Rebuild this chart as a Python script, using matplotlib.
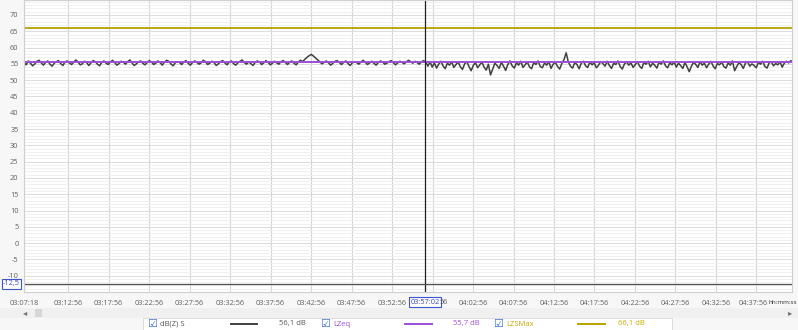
import matplotlib
matplotlib.use('Agg')
import matplotlib.pyplot as plt
import matplotlib.transforms as mtransforms
from matplotlib.ticker import MultipleLocator

plt.rcParams['font.family'] = ['Open Sans', 'DejaVu Sans']

# ---------- data ----------
START = '03:07:30'          # left edge of the plot
END = '04:42:19'            # right edge of the plot
FIRST_LABEL = '03:07:18'    # label printed at the left edge
SAMPLE_STEP = 16            # seconds between samples
TICK_TIMES = ['03:12:56', '03:17:56', '03:22:56', '03:27:56', '03:32:56', '03:37:56',
              '03:42:56', '03:47:56', '03:52:56', '03:57:56', '04:02:56', '04:07:56',
              '04:12:56', '04:17:56', '04:22:56', '04:27:56', '04:32:56', '04:37:56']
Y_TICKS = [-10, -5, 0, 5, 10, 15, 20, 25, 30, 35, 40, 45, 50, 55, 60, 65, 70]

DBZ_S = [
    55.4, 54.7, 55.9, 55.2, 54.4, 55.0, 55.8, 56.1, 55.3, 54.6, 55.5, 55.9, 54.9, 54.3, 55.2, 55.7, 56.0, 55.1, 54.5, 55.6,
    55.9, 55.3, 54.8, 55.5, 56.2, 55.6, 54.7, 55.0, 55.8, 55.4, 54.5, 55.3, 56.0, 55.7, 54.9, 54.4, 55.5, 55.9, 55.2, 54.8,
    55.6, 56.1, 55.4, 54.6, 55.1, 55.8, 55.5, 54.9, 55.7, 56.2, 55.3, 54.5, 55.0, 55.6, 55.9, 55.2, 54.7, 55.4, 56.0, 55.6,
    54.8, 55.2, 55.9, 55.4, 54.6, 55.5, 56.1, 55.8, 55.0, 54.4, 55.3, 55.7, 55.4, 54.8, 55.6, 56.0, 55.2, 54.6, 55.4, 55.9,
    55.5, 54.9, 55.3, 56.1, 55.7, 54.8, 55.2, 55.8, 55.4, 54.5, 55.0, 55.7, 56.0, 55.3, 54.7, 55.5, 55.9, 55.1, 54.6, 55.3,
    55.8, 56.2, 55.4, 54.9, 55.6, 55.1, 54.5, 55.4, 55.9, 55.6, 54.8, 55.3, 56.0, 55.5, 54.7, 55.2, 55.8, 55.3, 54.9, 55.7,
    56.0, 55.4, 54.8, 55.5, 55.9, 55.2, 54.7, 55.6, 56.1, 55.7, 56.4, 57.0, 57.5, 57.9, 57.4, 56.8, 56.2, 55.6, 55.0, 55.5,
    55.9, 55.3, 54.6, 55.2, 55.8, 56.0, 55.4, 54.8, 55.5, 55.9, 55.1, 54.5, 55.3, 55.7, 55.4, 54.9, 55.6, 56.1, 55.5, 54.8,
    55.3, 55.8, 55.2, 54.6, 55.4, 55.9, 55.6, 54.9, 55.2, 55.7, 56.0, 55.4, 54.7, 55.3, 55.8, 55.5, 55.0, 55.6, 56.1, 55.7,
    55.2, 55.8, 55.4, 54.9, 55.6, 56.0, 55.5, 54.3, 55.6, 54.0, 55.3, 53.7, 54.9, 55.8, 54.4, 53.5, 55.2, 54.6, 55.7, 53.9,
    54.8, 55.6, 54.1, 53.3, 55.0, 55.7, 54.2, 52.9, 54.5, 55.4, 53.8, 54.7, 55.6, 54.0, 53.1, 54.9, 51.6, 53.4, 55.2, 54.5,
    53.6, 55.5, 54.3, 53.0, 54.8, 55.9, 54.4, 53.7, 55.3, 54.6, 55.8, 53.9, 54.7, 55.6, 54.1, 53.5, 55.4, 54.8, 55.9, 54.2,
    53.8, 55.3, 54.6, 55.7, 53.6, 54.9, 55.5, 54.2, 53.4, 55.1, 56.3, 58.4, 55.6, 54.3, 53.7, 55.4, 54.8, 53.5, 55.2, 55.8,
    54.4, 53.9, 55.6, 54.7, 55.3, 53.8, 54.6, 55.7, 55.1, 54.3, 55.8, 54.5, 53.6, 55.2, 54.8, 55.9, 54.2, 53.4, 55.0, 55.6,
    54.6, 55.3, 53.9, 54.8, 55.7, 54.3, 53.6, 55.4, 54.9, 55.8, 54.1, 55.2, 54.6, 53.7, 55.5, 54.9, 55.9, 54.4, 53.8, 55.3,
    54.7, 55.6, 54.0, 55.2, 54.5, 53.6, 55.4, 54.1, 52.6, 54.3, 55.5, 54.8, 53.9, 55.7, 54.6, 55.2, 53.8, 54.9, 55.8, 54.4,
    53.5, 55.1, 54.7, 55.6, 54.2, 53.7, 55.3, 54.6, 55.9, 52.9, 54.2, 55.4, 54.8, 53.6, 55.2, 55.7, 54.3, 55.0, 54.5, 53.8,
    55.4, 54.9, 55.8, 54.2, 53.7, 55.3, 55.6, 54.4, 55.1, 54.7, 55.7, 54.0, 55.2, 55.8, 55.3, 56.0, 55.4, 55.6, 55.2, 55.8,
]
LZEQ = 55.7
LZSMAX = 66.1
CURSOR_TIME = '03:57:02'
CURSOR_LEVEL = -12.5
CURSOR_LEVEL_LABEL = '-12,5'

LEGEND_NAMES = ['dB(Z) S', 'LZeq', 'LZSMax']
LEGEND_VALUES = ['56,1 dB', '55,7 dB', '66,1 dB']
COLORS = ['#404040', '#9a4fd8', '#b8a100']
TEXT_COLORS = ['#555555', '#9a4fd8', '#c9a800']


def secs(hms):
    h, m, s = hms.split(':')
    return int(h) * 3600 + int(m) * 60 + int(s)


W, H = 798, 330
fig = plt.figure(figsize=(W / 100, H / 100), dpi=100, facecolor='#f7f7f7')
ax = fig.add_axes([24 / W, 1 - 292 / H, (792 - 24) / W, 292 / H])
ax.set_facecolor('white')

t0 = secs(START)
xs = [t0 + i * SAMPLE_STEP for i in range(len(DBZ_S))]

ax.set_xlim(t0, secs(END))
ax.set_ylim(-15, 74.6)

# grid
ax.yaxis.set_major_locator(MultipleLocator(5))
ax.yaxis.set_minor_locator(MultipleLocator(1))
ax.grid(which='minor', axis='y', color='#eeeeee', lw=0.6)
ax.grid(which='major', axis='y', color='#dcdcdc', lw=0.7)
ax.grid(which='major', axis='x', color='#d4d4d4', lw=0.8)
ax.set_axisbelow(True)

ax.set_yticks(Y_TICKS)
ax.set_yticklabels([str(v) for v in Y_TICKS])
# the 03:57:56 label is mostly hidden behind the cursor box, only "56" shows
xlabels = [FIRST_LABEL] + ['' if t == '03:57:56' else t for t in TICK_TIMES]
ax.set_xticks([t0] + [secs(t) for t in TICK_TIMES])
ax.set_xticklabels(xlabels)
ax.tick_params(axis='both', length=0, labelsize=5.3, colors='#606060', which='both')
ax.tick_params(axis='x', pad=6)
ax.tick_params(axis='y', pad=4)
for sp in ax.spines.values():
    sp.set_color('#cfcfcf')
    sp.set_linewidth(0.8)

# nudge the last time label a little left so the unit text fits after it
last = ax.get_xticklabels()[-1]
last.set_transform(last.get_transform() + mtransforms.ScaledTranslation(-3 / 100, 0, fig.dpi_scale_trans))

# series
ax.axhline(LZSMAX, color=COLORS[2], lw=1.3)
ax.plot(xs, DBZ_S, color=COLORS[0], lw=1.1)
ax.axhline(LZEQ, color=COLORS[1], lw=1.4)

# cursors
ax.axvline(secs(CURSOR_TIME), color='#202020', lw=0.9)
ax.axhline(CURSOR_LEVEL, color='#505050', lw=0.9)

box = dict(boxstyle='square,pad=0.15', fc='white', ec='#3a55d0', lw=0.8)
fig.text(425 / W, 1 - 302 / H, CURSOR_TIME, ha='center', va='center',
         fontsize=5.3, color='#3a45c0', bbox=box)
fig.text(440 / W, 1 - 302 / H, '56', ha='left', va='center',
         fontsize=5.3, color='#606060')
fig.text(20 / W, 1 - 284 / H, CURSOR_LEVEL_LABEL, ha='right', va='center',
         fontsize=5.3, color='#3a45c0', bbox=box)

fig.text(797 / W, 1 - 302 / H, 'hh:mm:ss', ha='right', va='center',
         fontsize=4.6, color='#303030')

# scroll bar
fig.patches.append(plt.Rectangle((0, 1 - 318 / H), 1, 10 / H, transform=fig.transFigure,
                                 fc='#f0f0f0', ec='none', zorder=0))
fig.text(25 / W, 1 - 313 / H, '◂', ha='center', va='center', fontsize=6,
         color='#707070', family='DejaVu Sans')
fig.patches.append(plt.Rectangle((35 / W, 1 - 317 / H), 7 / W, 8 / H, transform=fig.transFigure,
                                 fc='#d6d6d6', ec='none'))
fig.text(790 / W, 1 - 313 / H, '▸', ha='center', va='center', fontsize=6,
         color='#707070', family='DejaVu Sans')

# legend row
fig.patches.append(plt.Rectangle((143 / W, 0), (672 - 143) / W, 12 / H, transform=fig.transFigure,
                                 fc='white', ec='#d8d8d8', lw=0.6))
check_x = [152, 325, 498]
line_x = [(231, 257), (405, 432), (578, 605)]
value_x = [292, 466, 631]
ly = 1 - 324 / H
for i in range(3):
    fig.text(check_x[i] / W, ly, '☑', ha='center', va='center', fontsize=8,
             color='#3a6fd0', family='DejaVu Sans')
    fig.text((check_x[i] + 8) / W, ly, LEGEND_NAMES[i], ha='left', va='center',
             fontsize=5.5, color=TEXT_COLORS[i])
    fig.add_artist(plt.Line2D([line_x[i][0] / W, line_x[i][1] / W], [ly, ly],
                              transform=fig.transFigure, color=COLORS[i], lw=1.4))
    fig.text(value_x[i] / W, ly, LEGEND_VALUES[i], ha='center', va='center',
             fontsize=5.5, color=TEXT_COLORS[i])

fig.savefig('out.png', dpi=100, facecolor=fig.get_facecolor())
